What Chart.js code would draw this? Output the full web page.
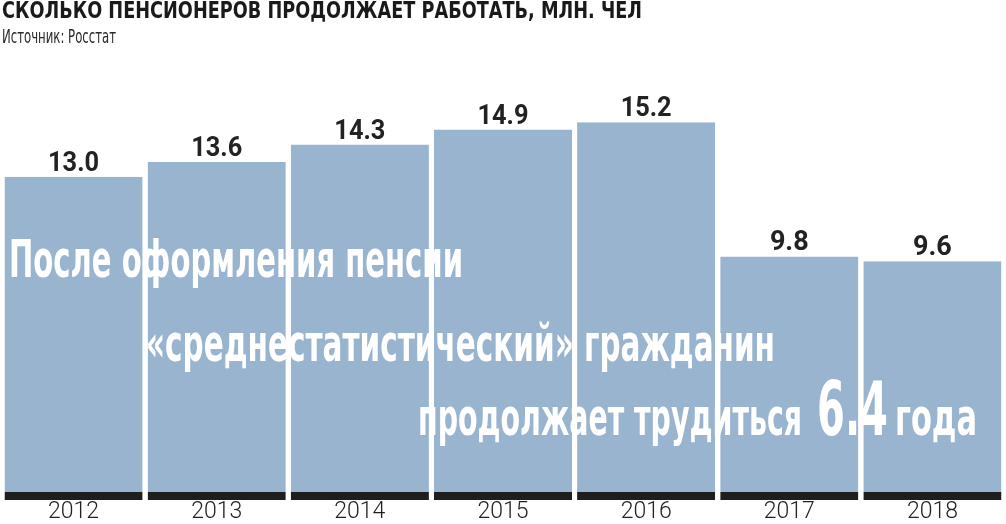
<!DOCTYPE html>
<html>
<head>
<meta charset="utf-8">
<script src="https://cdn.jsdelivr.net/npm/chart.js@4"></script>
<style>
  body { margin: 0; background: #fff; }
</style>
</head>
<body>
<canvas id="myChart" width="1006" height="524"></canvas>
<script>
const years = ['2012', '2013', '2014', '2015', '2016', '2017', '2018'];
const pensioners = [13.0, 13.6, 14.3, 14.9, 15.2, 9.8, 9.6];

const titleText = 'СКОЛЬКО ПЕНСИОНЕРОВ ПРОДОЛЖАЕТ РАБОТАТЬ, МЛН. ЧЕЛ';
const sourceText = 'Источник: Росстат';

const condensed = "'Liberation Sans Narrow', 'DejaVu Sans Condensed', sans-serif";

// text drawn on top of the bars
const textPlugin = {
  id: 'texts',
  afterDatasetsDraw(chart) {
    const ctx = chart.ctx;
    ctx.save();
    ctx.textAlign = 'left';
    ctx.textBaseline = 'alphabetic';

    // title + source
    ctx.fillStyle = '#1a1a1a';
    ctx.font = 'bold 23px ' + condensed;
    ctx.fillText(titleText, 2, 18, 640);
    ctx.fillStyle = '#2a2a2a';
    ctx.font = '20px ' + condensed;
    ctx.fillText(sourceText, 2, 43, 114);

    // values above bars
    const meta = chart.getDatasetMeta(0);
    ctx.textAlign = 'center';
    ctx.fillStyle = '#222';
    ctx.font = 'bold 27px Roboto';
    meta.data.forEach((bar, i) => {
      ctx.fillText(pensioners[i].toFixed(1), bar.x, bar.y - 6, 51);
    });

    // big white note
    ctx.textAlign = 'left';
    ctx.fillStyle = '#fff';
    ctx.font = 'bold 52px ' + condensed;
    ctx.fillText('После оформления пенсии', 9, 277, 454);
    ctx.fillText('«среднестатистический» гражданин', 146, 361, 629);
    ctx.fillText('продолжает трудиться', 418, 435, 384);
    ctx.fillText('года', 895, 435, 82);
    ctx.font = 'bold 74px ' + condensed;
    ctx.fillText('6.4', 817, 435, 71);
    ctx.restore();
  }
};

const ctx = document.getElementById('myChart');
const myChart = new Chart(ctx, {
  type: 'bar',
  data: {
    labels: years,
    datasets: [{
      data: pensioners,
      backgroundColor: 'rgb(152, 180, 207)',
      borderColor: '#1e1e1e',
      borderWidth: { top: 0, left: 0, right: 0, bottom: 8 },
      borderSkipped: false,
      barPercentage: 0.965,
      categoryPercentage: 1
    }]
  },
  options: {
    responsive: false,
    animation: false,
    layout: { padding: { top: 60, left: 2, right: 2, bottom: 0 } },
    plugins: {
      legend: { display: false },
      tooltip: { enabled: false }
    },
    scales: {
      x: {
        grid: { display: false, drawTicks: false },
        border: { display: false },
        ticks: {
          color: '#222',
          padding: 2,
          font: { family: 'Roboto', weight: '300', size: 23, lineHeight: 0.87 }
        }
      },
      y: {
        display: false,
        min: 0,
        max: 17.7
      }
    }
  },
  plugins: [textPlugin]
});
</script>
</body>
</html>
